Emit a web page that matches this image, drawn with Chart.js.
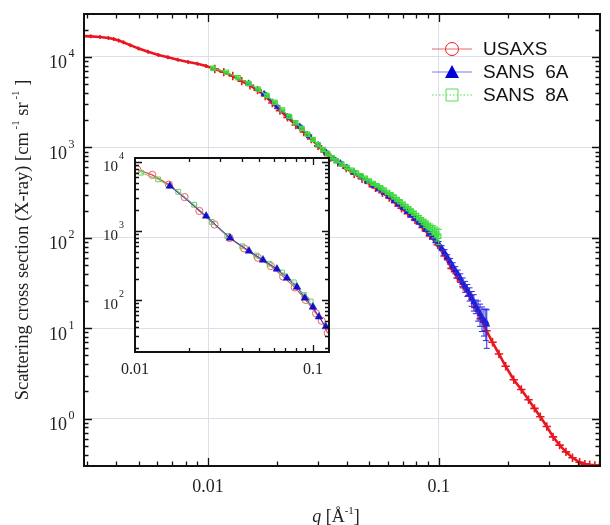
<!DOCTYPE html>
<html><head><meta charset="utf-8">
<script src="https://cdn.jsdelivr.net/npm/chart.js@4/dist/chart.umd.min.js"></script>
<style>
html,body{margin:0;padding:0;background:#fff;}
#wrap{position:relative;width:610px;height:525px;overflow:hidden;}
#main{position:absolute;left:0;top:0;}
#inset{position:absolute;left:85px;top:150px;}
</style></head><body>
<div id="wrap"><canvas id="main" width="610" height="525"></canvas><canvas id="inset" width="250" height="240"></canvas></div>
<script>
// ---------- main plot data ----------
const usaxsQ = [0.0029,0.0031,0.0034,0.0037,0.0039,0.0041,0.0043,0.0046,0.0050,0.0055,
0.0061,0.0067,0.0074,0.0082,0.0090,0.0098,0.0107,0.0117,0.0128,0.0140,
0.0152,0.0164,0.0177,0.0190,0.0205,0.0221,0.0240,0.0260,0.0280,0.0300,
0.0320,0.0340,0.0365,0.0397,0.0430,0.0465,0.0500,0.0532,0.0570,0.0610,
0.0648,0.0690,0.0735,0.0789,0.0850,0.0916,0.0990,0.1060,0.1137,0.1206,
0.1280,0.1356,0.1440,0.1520,0.1610,0.1710,0.1824,0.1950,0.2114,0.2280,
0.2450,0.2600,0.2756,0.2940,0.3130,0.3340,0.3560,0.3800,0.4080,0.4300,
0.4510,0.4750,0.4980];
const usaxsI = [17000,16900,16600,16200,15800,15200,14500,13500,12400,11400,
10500,9900,9300,8800,8400,7950,7350,6800,6150,5400,
4850,4300,3700,3100,2550,2150,1770,1480,1240,1040,
890,770,680,590,510,450,400,357,315,278,
244,212,185,158,130,105,84,63,46,36,
29,23,17,12.8,9.4,7.0,5.2,3.8,2.7,2.1,
1.62,1.30,1.05,0.82,0.63,0.51,0.43,0.37,0.33,0.315,
0.31,0.305,0.305];

const sans6Q = [0.0150,0.0175,0.0200,0.0225,0.0250,0.0275,0.0300,0.0325,0.0350,0.0375,
0.0400,0.0430,0.0460,0.0490,0.0520,0.0550,0.0580,0.0610,0.0640,0.0670,
0.0700,0.0730,0.0760,0.0790,0.0820,0.0850,0.0880,0.0910,0.0940,0.0970,
0.1000,0.1030,0.1060,0.1090,0.1120,0.1150,0.1180,0.1210,0.1240,0.1270,
0.1300,0.1330,0.1360,0.1390,0.1420,0.1450,0.1480,0.1510,0.1540,0.1570,
0.1600,0.1615];
const sans6I = [5100,3900,2800,2150,1700,1330,1060,880,750,670,
600,530,470,420,380,345,315,285,258,234,
214,194,177,162,148,136,124,112,102,93,
86,77,69,61,55,49,44,40,36,32,
29,26.5,24,21.5,19.5,17.5,16,14.5,13.2,12.2,
11.8,11];
const sans6Err = [150,120,90,70,55,45,35,30,25,22,
20,18,16,14,13,12,11,10,9,9,
8,8,7,7,6,6,6,5,5,5,
5,5,5,4,4,4,4,4,4,4,
4,4,4,4,4,3,4,4,4,4,
4.5,5];

const sans8Q = [0.0105,0.0120,0.0135,0.0150,0.0165,0.0180,0.0195,0.0210,0.0225,0.0240,
0.0255,0.0270,0.0285,0.0300,0.0315,0.0330,0.0345,0.0360,0.0380,0.0400,
0.0420,0.0440,0.0460,0.0480,0.0500,0.0520,0.0540,0.0560,0.0580,0.0600,
0.0620,0.0640,0.0660,0.0680,0.0700,0.0720,0.0740,0.0760,0.0780,0.0800,
0.0820,0.0840,0.0860,0.0880,0.0900,0.0920,0.0940,0.0960,0.0980,0.1000];
const sans8I = [7500,6800,5900,5100,4400,3750,3150,2600,2200,1870,
1620,1400,1220,1070,950,850,770,710,650,600,
560,520,485,455,425,400,378,358,338,318,
300,283,266,250,236,222,210,198,187,177,
167,158,150,142,134,128,122,116,110,104];
const sans8Err = [150,130,110,100,90,75,65,55,45,40,
35,30,28,25,22,20,18,17,16,15,
14,13,12,12,11,11,10,10,10,10,
9,9,9,9,9,9,9,9,9,9,
10,10,11,12,12,14,15,16,18,20];

// ---------- inset data ----------
const insetUsaxsQ = [0.0103,0.0125,0.0155,0.019,0.023,0.028,0.034,0.041,0.049,0.058,0.068,0.079,0.091,0.104,0.112,0.121];
const insetUsaxsI = [7800,6500,4700,3100,1950,1240,790,560,410,310,218,152,100,64,50,33];
const insetSans6Q = [0.0157,0.0251,0.0342,0.0437,0.0524,0.0627,0.0714,0.0813,0.0900,0.1000,0.1080,0.1180];
const insetSans6I = [4490,1650,792,513,380,281,208,154,107,79,57,41];
const insetSans8Q = [0.0108,0.0135,0.0175,0.0215,0.027,0.033,0.040,0.048,0.057,0.067,0.078,0.089,0.097];
const insetSans8I = [7000,5600,3700,2400,1350,850,600,440,335,250,180,118,95];

// ---------- ticks / labels ----------
const xTickValues = [0.01, 0.1];
const xTickLabels = ['0.01', '0.1'];
const yTickExps = [0, 1, 2, 3, 4];
const insetXTickValues = [0.01, 0.1];
const insetXTickLabels = ['0.01', '0.1'];
const insetYTickExps = [2, 3, 4];
const legendLabels = ['USAXS', 'SANS  6A', 'SANS  8A'];

const SERIF = '"Liberation Serif","Times New Roman",serif';
const SANS = '"Liberation Sans",Arial,sans-serif';
const RED = '#e8171f', BLUE = '#1414d2', GREEN = '#3ddc3d';

const pts = (q, I) => q.map((v, i) => ({x: v, y: I[i]}));

function logTicks(min, max) {
  const out = [];
  for (let d = Math.floor(Math.log10(min)); d <= Math.ceil(Math.log10(max)); d++) {
    for (let k = 1; k <= 9; k++) {
      const v = k === 1 ? Math.pow(10, d) : k * Math.pow(10, d);
      if (v >= min * 0.999 && v <= max * 1.001) out.push({value: v, major: k === 1});
    }
  }
  return out;
}

function drawRich(ctx, parts, cx, baseY) {
  let w = 0;
  parts.forEach(p => { ctx.font = p.font; p.w = ctx.measureText(p.t).width; w += p.w; });
  let x = cx - w / 2;
  ctx.textAlign = 'left'; ctx.textBaseline = 'alphabetic';
  parts.forEach(p => { ctx.font = p.font; ctx.fillText(p.t, x, baseY + (p.dy || 0)); x += p.w; });
}

function frameAndTicks(chart, majorLen, minorLen, frameW) {
  const {ctx, chartArea: a, scales: {x, y}} = chart;
  ctx.save();
  ctx.strokeStyle = '#111';
  ctx.lineWidth = 1.3;
  ctx.beginPath();
  x.ticks.forEach(t => {
    const px = Math.round(x.getPixelForValue(t.value)) + 0.5;
    if (px < a.left + 1 || px > a.right - 1) return;
    const L = t.major ? majorLen : minorLen;
    ctx.moveTo(px, a.bottom); ctx.lineTo(px, a.bottom - L);
    ctx.moveTo(px, a.top); ctx.lineTo(px, a.top + L);
  });
  y.ticks.forEach(t => {
    const py = Math.round(y.getPixelForValue(t.value)) + 0.5;
    if (py < a.top + 1 || py > a.bottom - 1) return;
    const L = t.major ? majorLen : minorLen;
    ctx.moveTo(a.left, py); ctx.lineTo(a.left + L, py);
    ctx.moveTo(a.right, py); ctx.lineTo(a.right - L, py);
  });
  ctx.stroke();
  ctx.lineWidth = frameW;
  ctx.strokeRect(a.left, a.top, a.right - a.left, a.bottom - a.top);
  ctx.restore();
}

const gridColor = c => (c.tick && c.tick.major) ? '#dcdfe9' : 'rgba(0,0,0,0)';

// ---------- main chart plugin ----------
const mainDecor = {
  id: 'mainDecor',
  afterDatasetDraw(chart, args) {
    const ds = chart.data.datasets[args.index];
    if (!ds.errorBars) return;
    const {ctx, scales: {x, y}, chartArea: a} = chart;
    ctx.save();
    ctx.beginPath(); ctx.rect(a.left, a.top, a.right - a.left, a.bottom - a.top); ctx.clip();
    ctx.strokeStyle = ds.errorColor; ctx.lineWidth = 1;
    ctx.beginPath();
    ds.data.forEach((p, i) => {
      const e = ds.errorBars[i];
      const px = x.getPixelForValue(p.x);
      const y1 = y.getPixelForValue(p.y + e), y2 = y.getPixelForValue(Math.max(p.y - e, 1e-6));
      ctx.moveTo(px, y1); ctx.lineTo(px, y2);
      ctx.moveTo(px - 3, y1); ctx.lineTo(px + 3, y1);
      ctx.moveTo(px - 3, y2); ctx.lineTo(px + 3, y2);
    });
    ctx.stroke();
    ctx.restore();
  },
  afterDraw(chart) {
    const {ctx, scales: {y}, chartArea: a} = chart;
    frameAndTicks(chart, 8, 4.5, 2);
    ctx.save();
    ctx.fillStyle = '#222';
    // y tick labels 10^n
    yTickExps.forEach(e => {
      const py = y.getPixelForValue(Math.pow(10, e));
      ctx.textBaseline = 'alphabetic';
      ctx.font = '18px ' + SERIF; ctx.textAlign = 'right';
      ctx.fillText('10', 67, py + 11.5);
      ctx.font = '12px ' + SERIF; ctx.textAlign = 'left';
      ctx.fillText(String(e), 68.5, py + 0.5);
    });
    // x title
    drawRich(ctx, [
      {t: 'q', font: 'italic 18px ' + SERIF},
      {t: ' [Å', font: '18px ' + SERIF},
      {t: '-1', font: '11px ' + SERIF, dy: -8},
      {t: ']', font: '18px ' + SERIF}
    ], 336, 522);
    // y title
    ctx.save();
    ctx.translate(21, (a.top + a.bottom) / 2);
    ctx.rotate(-Math.PI / 2);
    drawRich(ctx, [
      {t: 'Scattering cross section (X-ray) [cm', font: '18.5px ' + SERIF},
      {t: ' -1', font: '11px ' + SERIF, dy: -9},
      {t: ' sr', font: '18.5px ' + SERIF},
      {t: ' -1', font: '11px ' + SERIF, dy: -9},
      {t: ' ]', font: '18.5px ' + SERIF}
    ], 0, 7);
    ctx.restore();
    // legend
    const rows = [49, 72, 95];
    chart.data.datasets.forEach((ds, i) => {
      const ry = rows[i];
      ctx.save();
      ctx.strokeStyle = ds.legendLine; ctx.lineWidth = 1;
      ctx.setLineDash(ds.legendDash || []);
      ctx.beginPath(); ctx.moveTo(432, ry); ctx.lineTo(472, ry); ctx.stroke();
      ctx.setLineDash([]);
      ctx.lineWidth = 1;
      ctx.strokeStyle = ds.legendMarker; ctx.fillStyle = ds.legendMarker;
      ctx.beginPath();
      if (ds.legendShape === 'circle') {
        ctx.fillStyle = '#fff';
        ctx.arc(452, ry, 6.5, 0, Math.PI * 2); ctx.fill(); ctx.stroke();
        ctx.beginPath(); ctx.moveTo(445.5, ry); ctx.lineTo(458.5, ry); ctx.strokeStyle = ds.legendLine; ctx.stroke();
      } else if (ds.legendShape === 'triangle') {
        ctx.moveTo(452, ry - 7); ctx.lineTo(459, ry + 6); ctx.lineTo(445, ry + 6); ctx.closePath(); ctx.fill();
      } else {
        ctx.fillStyle = '#fff';
        ctx.rect(446, ry - 6, 12, 12); ctx.fill(); ctx.stroke();
        ctx.setLineDash([1.5, 2]); ctx.beginPath(); ctx.moveTo(446, ry); ctx.lineTo(458, ry);
        ctx.strokeStyle = ds.legendLine; ctx.stroke(); ctx.setLineDash([]);
      }
      ctx.fillStyle = '#111';
      ctx.font = '19px ' + SANS; ctx.textAlign = 'left'; ctx.textBaseline = 'middle';
      ctx.fillText(legendLabels[i], 483, ry + 1);
      ctx.restore();
    });
    ctx.restore();
  }
};

new Chart(document.getElementById('main'), {
  type: 'scatter',
  data: {datasets: [
    {label: legendLabels[0], data: pts(usaxsQ, usaxsI), showLine: true, order: 3,
     borderColor: RED, backgroundColor: RED, borderWidth: 2.6,
     pointStyle: 'cross', pointRadius: c => (c.raw && c.raw.x < 0.01) ? 2 : 4.2, pointBorderWidth: 1.6,
     pointBorderColor: RED, legendLine: '#e46a6a', legendMarker: RED, legendShape: 'circle'},
    {label: legendLabels[1], data: pts(sans6Q, sans6I), showLine: true, order: 2,
     borderColor: '#2a2ae0', backgroundColor: BLUE, borderWidth: 1.2,
     pointStyle: 'triangle', pointRadius: 3.6, pointBorderWidth: 0.5, pointBorderColor: BLUE,
     errorBars: sans6Err, errorColor: '#2a2ae0',
     legendLine: '#7a7aee', legendMarker: '#0000d8', legendShape: 'triangle'},
    {label: legendLabels[2], data: pts(sans8Q, sans8I), showLine: true, order: 1,
     borderColor: GREEN, backgroundColor: 'rgba(255,255,255,0)', borderWidth: 1.2,
     pointStyle: 'rect', pointRadius: 3, pointBorderWidth: 1.2, pointBorderColor: GREEN,
     errorBars: sans8Err, errorColor: GREEN,
     legendLine: '#55dd55', legendMarker: '#55dd55', legendShape: 'square', legendDash: [1.5, 2]}
  ]},
  options: {
    responsive: false, animation: false, devicePixelRatio: 1,
    layout: {padding: {top: 14, right: 3, left: 0, bottom: 0}},
    elements: {line: {tension: 0}},
    plugins: {legend: {display: false}, tooltip: {enabled: false}},
    scales: {
      x: {type: 'logarithmic', min: 0.0029, max: 0.5,
          afterBuildTicks: s => { s.ticks = logTicks(0.0029, 0.5); },
          afterFit: s => { s.height = 59; },
          grid: {color: gridColor, drawTicks: false, lineWidth: 1},
          border: {display: false},
          ticks: {autoSkip: false, maxRotation: 0, minRotation: 0, padding: 10, color: '#222',
                  font: {family: SERIF, size: 18},
                  callback: v => { const i = xTickValues.indexOf(v); return i >= 0 ? xTickLabels[i] : ''; }}},
      y: {type: 'logarithmic', min: 0.302, max: 29850,
          afterBuildTicks: s => { s.ticks = logTicks(0.302, 29850); },
          afterFit: s => { s.width = 84; },
          grid: {color: gridColor, drawTicks: false, lineWidth: 1},
          border: {display: false},
          ticks: {display: false}}
    }
  },
  plugins: [mainDecor]
});

// ---------- inset chart ----------
const insetDecor = {
  id: 'insetDecor',
  afterDraw(chart) {
    const {ctx, scales: {y}} = chart;
    frameAndTicks(chart, 7, 4, 2);
    ctx.save();
    ctx.fillStyle = '#222';
    insetYTickExps.forEach(e => {
      const py = y.getPixelForValue(Math.pow(10, e));
      ctx.textBaseline = 'alphabetic';
      ctx.font = '15px ' + SERIF; ctx.textAlign = 'right';
      ctx.fillText('10', 33, py + 9);
      ctx.font = '10px ' + SERIF; ctx.textAlign = 'left';
      ctx.fillText(String(e), 34, py - 3);
    });
    ctx.restore();
  }
};

new Chart(document.getElementById('inset'), {
  type: 'scatter',
  data: {datasets: [
    {data: pts(insetSans6Q, insetSans6I), showLine: true, order: 1,
     borderColor: '#3a3ad8', backgroundColor: '#1010c8', borderWidth: 1,
     pointStyle: 'triangle', pointRadius: 4.4, pointBorderWidth: 0.5, pointBorderColor: '#1010c8'},
    {data: pts(insetSans8Q, insetSans8I), showLine: true, order: 2,
     borderColor: '#66d066', backgroundColor: 'rgba(255,255,255,0)', borderWidth: 1,
     pointStyle: 'rect', pointRadius: 3.4, pointBorderWidth: 1, pointBorderColor: '#66d066'},
    {data: pts(insetUsaxsQ, insetUsaxsI), showLine: true, order: 3,
     borderColor: '#e04848', backgroundColor: 'rgba(255,255,255,0)', borderWidth: 1.2,
     pointStyle: 'circle', pointRadius: 3.6, pointBorderWidth: 1, pointBorderColor: '#ee6060'}
  ]},
  options: {
    responsive: false, animation: false, devicePixelRatio: 1,
    layout: {padding: {top: 8, right: 6, left: 0, bottom: 0}},
    elements: {line: {tension: 0}},
    plugins: {legend: {display: false}, tooltip: {enabled: false}},
    scales: {
      x: {type: 'logarithmic', min: 0.01, max: 0.123,
          afterBuildTicks: s => { s.ticks = logTicks(0.01, 0.123); },
          afterFit: s => { s.height = 38; },
          grid: {display: false, drawTicks: false},
          border: {display: false},
          ticks: {autoSkip: false, maxRotation: 0, minRotation: 0, padding: 8, color: '#222',
                  font: {family: SERIF, size: 16},
                  callback: v => { const i = insetXTickValues.indexOf(v); return i >= 0 ? insetXTickLabels[i] : ''; }}},
      y: {type: 'logarithmic', min: 17.6, max: 11430,
          afterBuildTicks: s => { s.ticks = logTicks(17.6, 11430); },
          afterFit: s => { s.width = 50; },
          grid: {display: false, drawTicks: false},
          border: {display: false},
          ticks: {display: false}}
    }
  },
  plugins: [insetDecor]
});
</script>
</body></html>
